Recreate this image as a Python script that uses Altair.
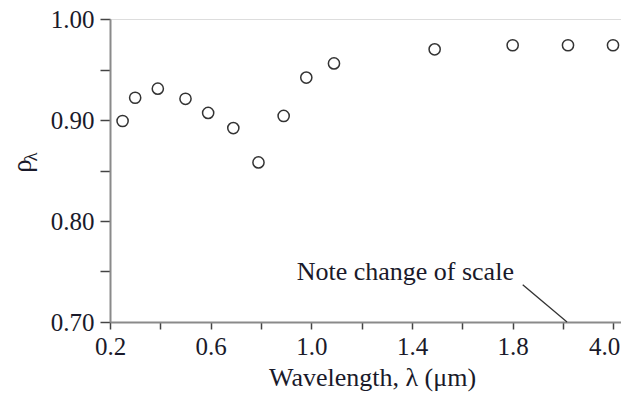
import altair as alt
import pandas as pd

# data
wavelength = [0.25, 0.30, 0.39, 0.50, 0.59, 0.69, 0.79, 0.89, 0.98, 1.09, 1.49, 1.80, 2.2, 4.0]
reflectivity = [0.899, 0.922, 0.931, 0.921, 0.907, 0.892, 0.858, 0.904, 0.942, 0.956, 0.970, 0.974, 0.974, 0.974]

x_ticks = [0.2, 0.4, 0.6, 0.8, 1.0, 1.2, 1.4, 1.6, 1.8, 2.0, 4.0]
x_labels = ["0.2", "0.6", "1.0", "1.4", "1.8", "4.0"]
y_ticks = [0.70, 0.75, 0.80, 0.85, 0.90, 0.95, 1.00]

note_text = ["Note change of scale"]
note_x = [1.805]
note_y = [0.750]
leader_x = [1.84]
leader_y = [0.737]
leader_x2 = [2.16]
leader_y2 = [0.700]

FONT = "Liberation Serif"
W, H = 511, 303

df = pd.DataFrame({"x": wavelength, "y": reflectivity})
xscale = alt.Scale(domain=[0.2, 2.0, 4.0, 4.32], range=[0, 453, 503, W], nice=False, zero=False)
yscale = alt.Scale(domain=[0.70, 1.00], nice=False, zero=False)

label_list = "[" + ",".join("'" + s + "'" for s in x_labels) + "]"

points = alt.Chart(df).mark_point(
    shape="circle", filled=False, size=125, strokeWidth=1.5, color="#333333", opacity=1
).encode(
    x=alt.X("x:Q", scale=xscale, axis=alt.Axis(
        values=x_ticks,
        labelExpr="indexof(" + label_list + ", format(datum.value, '.1f')) >= 0 ? format(datum.value, '.1f') : ''",
        title="Wavelength, λ (μm)", titleFontSize=26, titleFont=FONT, titleFontWeight="normal",
        titlePadding=5, titleColor="#1a1a2a", titleX=262, titleAlign="center",
        labelFont=FONT, labelFontSize=25, labelColor="#1a1a2a", labelPadding=5,
        labelOffset={"condition": {"test": "datum.value > 3", "value": -9}, "value": 0},
        tickSize=7, tickColor="#444444", tickWidth=1.5,
        domainColor="#8a8a8a", domainWidth=2, grid=False, labelFlush=False,
        labelOverlap=False,
    )),
    y=alt.Y("y:Q", scale=yscale, axis=alt.Axis(
        values=y_ticks,
        labelExpr="round(datum.value*100) % 10 == 0 ? format(datum.value, '.2f') : ''",
        title=None,
        labelFont=FONT, labelFontSize=25, labelColor="#1a1a2a", labelPadding=6,
        tickSize=10, tickColor="#444444", tickWidth=1.5,
        domainColor="#8a8a8a", domainWidth=2, grid=False, labelOverlap=False,
    )),
)

note_df = pd.DataFrame({"t": note_text, "x": note_x, "y": note_y})
note = alt.Chart(note_df).mark_text(
    font=FONT, fontSize=26, align="right", baseline="middle", color="#1a1a2a"
).encode(x=alt.X("x:Q", scale=xscale), y=alt.Y("y:Q", scale=yscale), text="t:N")

leader_df = pd.DataFrame({"x": leader_x, "y": leader_y, "x2": leader_x2, "y2": leader_y2})
leader = alt.Chart(leader_df).mark_rule(color="#333333", strokeWidth=1.3).encode(
    x=alt.X("x:Q", scale=xscale), y=alt.Y("y:Q", scale=yscale),
    x2="x2:Q", y2="y2:Q",
)

rho_df = pd.DataFrame({"t": ["ρ"]})
rho = alt.Chart(rho_df).mark_text(
    font=FONT, fontSize=27, angle=270, align="center", baseline="middle", color="#1a1a2a"
).encode(x=alt.value(-87), y=alt.value(147), text="t:N")

lam_df = pd.DataFrame({"t": ["λ"]})
lam = alt.Chart(lam_df).mark_text(
    font=FONT, fontSize=19, angle=270, align="center", baseline="middle", color="#1a1a2a"
).encode(x=alt.value(-79), y=alt.value(138), text="t:N")

chart = alt.layer(points, note, leader, rho, lam).properties(
    width=W, height=H,
    autosize=alt.AutoSizeParams(type="none"),
    padding={"left": 102, "top": 11, "right": 0, "bottom": 70},
).configure_view(stroke=None).configure(background="white")

chart.save("out.html", embed_options={"renderer": "svg", "actions": False})
